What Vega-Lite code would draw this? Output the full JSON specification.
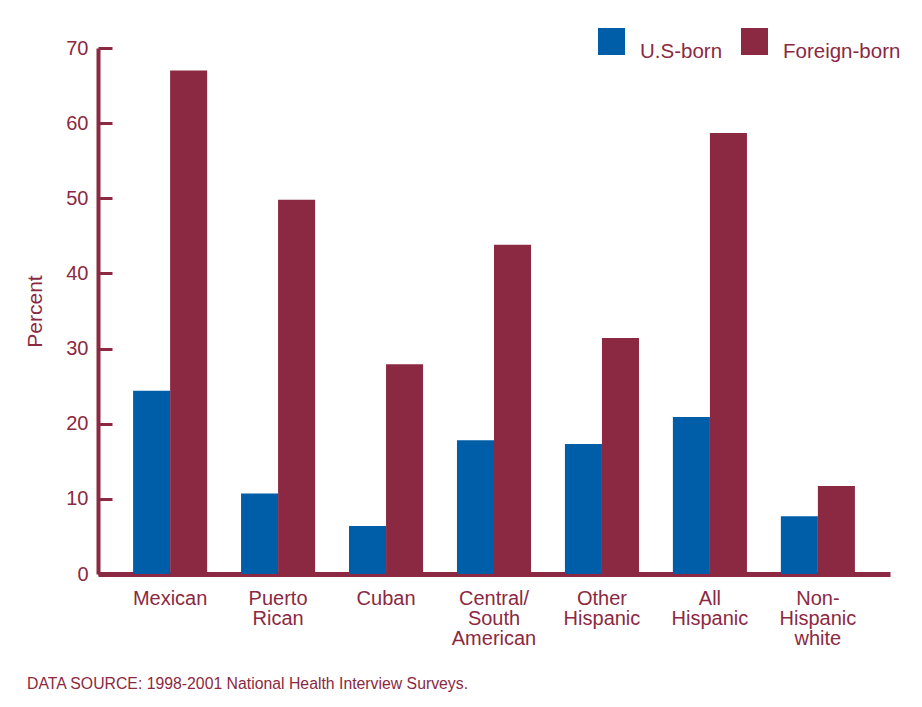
{
  "$schema": "https://vega.github.io/schema/vega-lite/v6.json",
  "width": 792,
  "height": 526,
  "autosize": {"type": "none"},
  "padding": {"left": 98, "top": 48, "right": 32, "bottom": 133},
  "background": "white",
  "title": {
    "text": "DATA SOURCE: 1998-2001 National Health Interview Surveys.",
    "orient": "bottom",
    "anchor": "start",
    "frame": "group",
    "dx": -71,
    "offset": 29,
    "font": "Liberation Sans",
    "fontSize": 15.8,
    "fontWeight": "normal",
    "color": "#8B2942"
  },
  "data": {
    "values": [
      {"group": "Mexican", "nativity": "U.S-born", "percent": 24.4},
      {"group": "Mexican", "nativity": "Foreign-born", "percent": 67.0},
      {"group": "Puerto Rican", "nativity": "U.S-born", "percent": 10.7},
      {"group": "Puerto Rican", "nativity": "Foreign-born", "percent": 49.8},
      {"group": "Cuban", "nativity": "U.S-born", "percent": 6.4},
      {"group": "Cuban", "nativity": "Foreign-born", "percent": 27.9},
      {"group": "Central/South American", "nativity": "U.S-born", "percent": 17.8},
      {"group": "Central/South American", "nativity": "Foreign-born", "percent": 43.8},
      {"group": "Other Hispanic", "nativity": "U.S-born", "percent": 17.3},
      {"group": "Other Hispanic", "nativity": "Foreign-born", "percent": 31.4},
      {"group": "All Hispanic", "nativity": "U.S-born", "percent": 20.9},
      {"group": "All Hispanic", "nativity": "Foreign-born", "percent": 58.7},
      {"group": "Non-Hispanic white", "nativity": "U.S-born", "percent": 7.7},
      {"group": "Non-Hispanic white", "nativity": "Foreign-born", "percent": 11.7}
    ]
  },
  "mark": {"type": "bar"},
  "encoding": {
    "x": {
      "field": "group",
      "type": "nominal",
      "sort": null,
      "scale": {"paddingInner": 0.314, "paddingOuter": 0.325},
      "axis": {
        "title": null,
        "labelAngle": 0,
        "labelExpr": "split(replace(replace(datum.label, '/', '/ '), '-', '- '), ' ')",
        "labelLineHeight": 20,
        "labelFontSize": 20,
        "labelPadding": 14,
        "ticks": false,
        "domainWidth": 5,
        "domainColor": "#8B2942"
      }
    },
    "xOffset": {
      "field": "nativity",
      "type": "nominal",
      "sort": ["U.S-born", "Foreign-born"],
      "scale": {"paddingInner": 0, "paddingOuter": 0}
    },
    "y": {
      "field": "percent",
      "type": "quantitative",
      "scale": {"domain": [0, 70], "nice": false},
      "axis": {
        "title": "Percent",
        "values": [0, 10, 20, 30, 40, 50, 60, 70],
        "grid": false,
        "tickSize": -14,
        "tickWidth": 3,
        "tickColor": "#8B2942",
        "domainWidth": 4,
        "domainColor": "#8B2942",
        "labelFontSize": 20,
        "labelPadding": 24,
        "titleFontSize": 21,
        "titleFontWeight": "normal",
        "titlePadding": 20
      }
    },
    "color": {
      "field": "nativity",
      "type": "nominal",
      "sort": ["U.S-born", "Foreign-born"],
      "scale": {"domain": ["U.S-born", "Foreign-born"], "range": ["#005DA8", "#8B2942"]},
      "legend": {
        "title": null,
        "orient": "none",
        "direction": "horizontal",
        "legendX": 500,
        "legendY": -20,
        "symbolType": "square",
        "symbolSize": 729,
        "symbolStrokeWidth": 0,
        "labelFontSize": 20.5,
        "labelBaseline": "top",
        "labelOffset": 15,
        "columnPadding": 18,
        "labelColor": "#8B2942"
      }
    }
  },
  "config": {
    "font": "Liberation Sans",
    "view": {"stroke": null},
    "axis": {
      "labelColor": "#8B2942",
      "titleColor": "#8B2942",
      "labelFont": "Liberation Sans",
      "titleFont": "Liberation Sans"
    },
    "legend": {"labelFont": "Liberation Sans"}
  }
}
